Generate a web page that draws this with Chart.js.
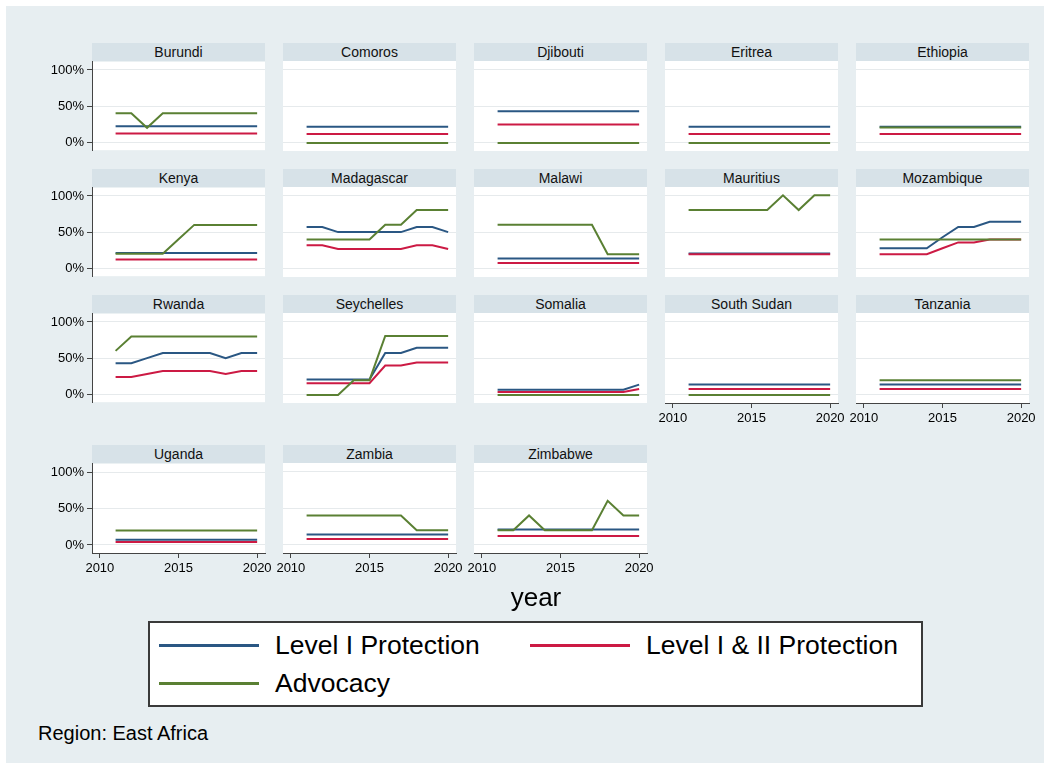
<!DOCTYPE html>
<html>
<head>
<meta charset="utf-8">
<script src="https://cdn.jsdelivr.net/npm/chart.js@4.4.1/dist/chart.umd.min.js"></script>
<style>
    body { margin: 0; width: 1050px; height: 769px; background: #fff; position: relative; overflow: hidden;
           font-family: "Liberation Sans", Arial, sans-serif; color: #000; }
    #fondo { position: absolute; left: 6px; top: 6px; width: 1038px; height: 757px; background: #e7eef1; }
    .tira { position: absolute; height: 18px; line-height: 18px; background: #d7e2e8; text-align: center;
            font-size: 14px; color: #111; }
    canvas { position: absolute; }
    #leyenda { position: absolute; left: 148px; top: 621px; width: 775px; height: 86px; box-sizing: border-box;
               background: #fff; border: 2px solid #3a3a3a; }
    .muestra { position: absolute; width: 100px; height: 3px; }
    .etiqueta { position: absolute; font-size: 26.5px; line-height: 30px; height: 30px; white-space: nowrap; }
    #titulo-x { position: absolute; left: 436px; top: 582px; width: 200px; text-align: center; font-size: 26px; line-height: 30px; }
    #nota { position: absolute; left: 38px; top: 721px; font-size: 20px; line-height: 24px; }
</style>
</head>
<body>
<div id="fondo"></div>
<div id="paneles"></div>
<div id="titulo-x">year</div>
<div id="leyenda"></div>
<div id="nota">Region: East Africa</div>

<script>
// Datos del gráfico
const years = [2011, 2012, 2013, 2014, 2015, 2016, 2017, 2018, 2019, 2020];
const xTicks = [2010, 2015, 2020];
const yTicks = [0, 50, 100];
const seriesNames = ['Level I Protection', 'Level I & II Protection', 'Advocacy'];

const countries = ['Burundi', 'Comoros', 'Djibouti', 'Eritrea', 'Ethiopia',
    'Kenya', 'Madagascar', 'Malawi', 'Mauritius', 'Mozambique',
    'Rwanda', 'Seychelles', 'Somalia', 'South Sudan', 'Tanzania',
    'Uganda', 'Zambia', 'Zimbabwe'];

const levelI = [
    [22, 22, 22, 22, 22, 22, 22, 22, 22, 22],
    [22, 22, 22, 22, 22, 22, 22, 22, 22, 22],
    [43, 43, 43, 43, 43, 43, 43, 43, 43, 43],
    [22, 22, 22, 22, 22, 22, 22, 22, 22, 22],
    [22, 22, 22, 22, 22, 22, 22, 22, 22, 22],
    [21, 21, 21, 21, 21, 21, 21, 21, 21, 21],
    [57, 57, 50, 50, 50, 50, 50, 57, 57, 50],
    [14, 14, 14, 14, 14, 14, 14, 14, 14, 14],
    [21, 21, 21, 21, 21, 21, 21, 21, 21, 21],
    [28, 28, 28, 28, 43, 57, 57, 64, 64, 64],
    [43, 43, 50, 57, 57, 57, 57, 50, 57, 57],
    [21, 21, 21, 21, 21, 57, 57, 64, 64, 64],
    [7, 7, 7, 7, 7, 7, 7, 7, 7, 14],
    [14, 14, 14, 14, 14, 14, 14, 14, 14, 14],
    [14, 14, 14, 14, 14, 14, 14, 14, 14, 14],
    [7, 7, 7, 7, 7, 7, 7, 7, 7, 7],
    [14, 14, 14, 14, 14, 14, 14, 14, 14, 14],
    [21, 21, 21, 21, 21, 21, 21, 21, 21, 21]
];

const levelII = [
    [12, 12, 12, 12, 12, 12, 12, 12, 12, 12],
    [12, 12, 12, 12, 12, 12, 12, 12, 12, 12],
    [25, 25, 25, 25, 25, 25, 25, 25, 25, 25],
    [12, 12, 12, 12, 12, 12, 12, 12, 12, 12],
    [12, 12, 12, 12, 12, 12, 12, 12, 12, 12],
    [12, 12, 12, 12, 12, 12, 12, 12, 12, 12],
    [32, 32, 27, 27, 27, 27, 27, 32, 32, 27],
    [8, 8, 8, 8, 8, 8, 8, 8, 8, 8],
    [20, 20, 20, 20, 20, 20, 20, 20, 20, 20],
    [20, 20, 20, 20, 28, 36, 36, 40, 40, 40],
    [24, 24, 28, 32, 32, 32, 32, 28, 32, 32],
    [16, 16, 16, 16, 16, 40, 40, 44, 44, 44],
    [4, 4, 4, 4, 4, 4, 4, 4, 4, 8],
    [8, 8, 8, 8, 8, 8, 8, 8, 8, 8],
    [8, 8, 8, 8, 8, 8, 8, 8, 8, 8],
    [4, 4, 4, 4, 4, 4, 4, 4, 4, 4],
    [8, 8, 8, 8, 8, 8, 8, 8, 8, 8],
    [12, 12, 12, 12, 12, 12, 12, 12, 12, 12]
];

const advocacy = [
    [40, 40, 20, 40, 40, 40, 40, 40, 40, 40],
    [0, 0, 0, 0, 0, 0, 0, 0, 0, 0],
    [0, 0, 0, 0, 0, 0, 0, 0, 0, 0],
    [0, 0, 0, 0, 0, 0, 0, 0, 0, 0],
    [21, 21, 21, 21, 21, 21, 21, 21, 21, 21],
    [20, 20, 20, 20, 40, 60, 60, 60, 60, 60],
    [40, 40, 40, 40, 40, 60, 60, 80, 80, 80],
    [60, 60, 60, 60, 60, 60, 60, 20, 20, 20],
    [80, 80, 80, 80, 80, 80, 100, 80, 100, 100],
    [40, 40, 40, 40, 40, 40, 40, 40, 40, 40],
    [60, 80, 80, 80, 80, 80, 80, 80, 80, 80],
    [0, 0, 0, 20, 20, 80, 80, 80, 80, 80],
    [0, 0, 0, 0, 0, 0, 0, 0, 0, 0],
    [0, 0, 0, 0, 0, 0, 0, 0, 0, 0],
    [20, 20, 20, 20, 20, 20, 20, 20, 20, 20],
    [20, 20, 20, 20, 20, 20, 20, 20, 20, 20],
    [40, 40, 40, 40, 40, 40, 40, 20, 20, 20],
    [20, 20, 40, 20, 20, 20, 20, 60, 40, 40]
];

// Estilos y posiciones de la rejilla
const colores = ['#2a5783', '#cc1a44', '#5a8033'];
const colLeft = [92, 283, 474, 665, 856];
const rowTop = [43, 169, 295, 445];
const panelW = 173;
const stripH = 18;
const plotH = 90;
const margen = 10; // espacio extra del canvas para que Chart.js no encoja el área

// Fondo blanco del área de trazado
const fondoBlanco = {
    id: 'fondoBlanco',
    beforeDraw(chart) {
        const { ctx, chartArea: a } = chart;
        ctx.save();
        ctx.fillStyle = '#fff';
        ctx.fillRect(a.left, a.top, a.right - a.left, a.bottom - a.top);
        ctx.restore();
    }
};

const toXY = vals => vals.map((v, k) => ({ x: years[k], y: v }));

function crearPanel(pais, i) {
    const col = i % 5;
    const fila = Math.floor(i / 5);
    const conEjeY = col === 0;
    const conEjeX = i >= countries.length - 5;
    const contenedor = document.getElementById('paneles');

    const tira = document.createElement('div');
    tira.className = 'tira';
    tira.style.left = `${colLeft[col]}px`;
    tira.style.top = `${rowTop[fila]}px`;
    tira.style.width = `${panelW}px`;
    tira.textContent = pais;
    contenedor.appendChild(tira);

    const extraIzq = conEjeY ? 60 : 20;
    const canvas = document.createElement('canvas');
    canvas.width = panelW + extraIzq + 20;
    canvas.height = plotH + 2 * margen + (conEjeX ? 28 : 0);
    canvas.style.left = `${colLeft[col] - extraIzq}px`;
    canvas.style.top = `${rowTop[fila] + stripH - margen}px`;
    contenedor.appendChild(canvas);

    const series = [levelI[i], levelII[i], advocacy[i]];
    new Chart(canvas.getContext('2d'), {
        type: 'line',
        data: {
            datasets: series.map((vals, s) => ({
                label: seriesNames[s],
                data: toXY(vals),
                borderColor: colores[s],
                backgroundColor: colores[s],
                borderWidth: 2,
                pointRadius: 0,
                tension: 0,
                order: 2 - s
            }))
        },
        options: {
            responsive: false,
            animation: false,
            events: [],
            layout: { padding: { left: conEjeY ? 0 : 20, right: 20, top: margen, bottom: margen } },
            plugins: { legend: { display: false }, tooltip: { enabled: false } },
            scales: {
                x: {
                    type: 'linear',
                    min: 2009.5,
                    max: 2020.5,
                    display: conEjeX,
                    afterBuildTicks: s => { s.ticks = xTicks.map(v => ({ value: v })); },
                    afterFit: s => { s.height = conEjeX ? 28 : 0; },
                    grid: { drawOnChartArea: false, tickLength: 5, tickColor: '#444', color: '#444' },
                    border: { color: '#444', width: 1 },
                    ticks: { color: '#000', font: { size: 13 }, padding: 3, maxRotation: 0, callback: v => String(v) }
                },
                y: {
                    type: 'linear',
                    min: -11,
                    max: 111.3,
                    afterBuildTicks: s => { s.ticks = yTicks.map(v => ({ value: v })); },
                    afterFit: s => { s.width = conEjeY ? 60 : 0; },
                    grid: { color: '#e6eaec', drawTicks: conEjeY, tickLength: 5, tickColor: '#444' },
                    border: { display: conEjeY, color: '#444', width: 1 },
                    ticks: { display: conEjeY, color: '#000', font: { size: 13 }, padding: 3, callback: v => `${v}%` }
                }
            }
        },
        plugins: [fondoBlanco]
    });
}

// Leyenda común
function crearLeyenda() {
    const leyenda = document.getElementById('leyenda');
    const posiciones = [{ x: 9, y: 22 }, { x: 380, y: 22 }, { x: 9, y: 60 }];
    seriesNames.forEach((nombre, s) => {
        const p = posiciones[s];
        const muestra = document.createElement('div');
        muestra.className = 'muestra';
        muestra.style.left = `${p.x}px`;
        muestra.style.top = `${p.y - 1}px`;
        muestra.style.background = colores[s];
        leyenda.appendChild(muestra);

        const etiqueta = document.createElement('div');
        etiqueta.className = 'etiqueta';
        etiqueta.style.left = `${p.x + 116}px`;
        etiqueta.style.top = `${p.y - 15}px`;
        etiqueta.textContent = nombre;
        leyenda.appendChild(etiqueta);
    });
}

countries.forEach(crearPanel);
crearLeyenda();
</script>
</body>
</html>
